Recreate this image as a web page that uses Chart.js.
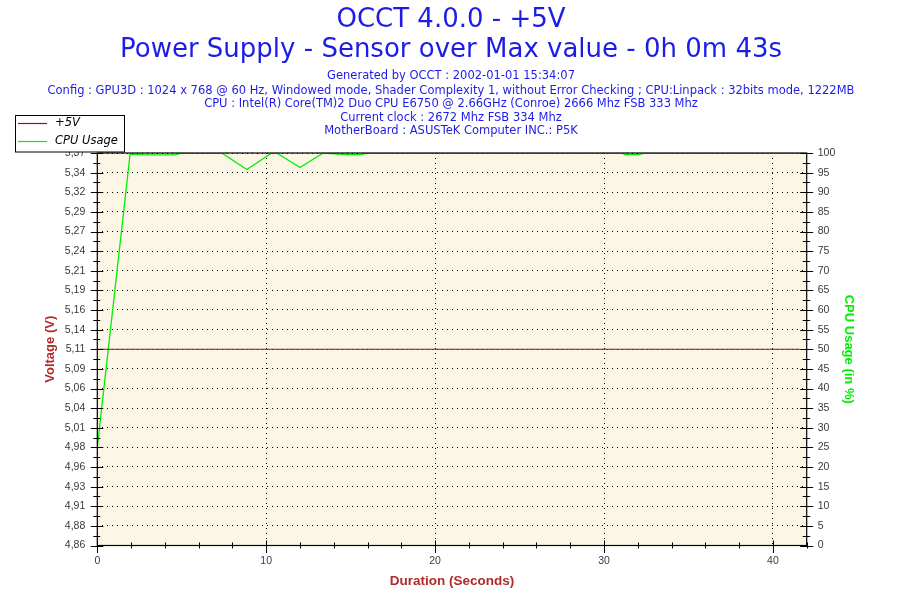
<!DOCTYPE html>
<html>
<head>
<meta charset="utf-8">
<script src="https://cdn.jsdelivr.net/npm/chart.js@4.4.1/dist/chart.umd.min.js"></script>
<style>
  html, body { margin: 0; padding: 0; background: #ffffff; }
  #wrap { width: 900px; height: 600px; }
</style>
</head>
<body>
<div id="wrap"><canvas id="c" width="900" height="600"></canvas></div>
<script>
// ---- Data ----
const titleLines = ["OCCT 4.0.0 - +5V", "Power Supply - Sensor over Max value - 0h 0m 43s"];
const infoLines = [
  "Generated by OCCT : 2002-01-01 15:34:07",
  "Config : GPU3D : 1024 x 768 @ 60 Hz, Windowed mode, Shader Complexity 1, without Error Checking ; CPU:Linpack : 32bits mode, 1222MB",
  "CPU : Intel(R) Core(TM)2 Duo CPU E6750 @ 2.66GHz (Conroe) 2666 Mhz FSB 333 Mhz",
  "Current clock : 2672 Mhz FSB 334 Mhz",
  "MotherBoard : ASUSTeK Computer INC.: P5K"
];
const seriesNames = ["+5V", "CPU Usage"];
const timeSec = [0, 1.94, 2.83, 4.6, 5.0, 7.37, 8.85, 10.33, 10.62, 12.0, 13.37, 14.77, 15.56, 16.0, 31.0, 31.25, 32.06, 32.4, 41.6];
const voltage = [5.112, 5.112, 5.112, 5.112, 5.112, 5.112, 5.112, 5.112, 5.112, 5.112, 5.112, 5.112, 5.112, 5.112, 5.112, 5.112, 5.112, 5.112, 5.112];
const cpuUsage = [25, 99.7, 99.5, 99.5, 100, 100, 95.8, 100, 100, 96.3, 100, 99.6, 99.6, 100, 100, 99.6, 99.6, 100, 100];
const voltMin = 4.857, voltMax = 5.367;
const voltTickLabels = ["4,86","4,88","4,91","4,93","4,96","4,98","5,01","5,04","5,06","5,09","5,11","5,14","5,16","5,19","5,21","5,24","5,27","5,29","5,32","5,34","5,37"];
const xTickValues = [0, 10, 20, 30, 40];
const xMax = 42;
const axisTitles = { x: "Duration (Seconds)", y: "Voltage (V)", y1: "CPU Usage (in %)" };

// ---- Styles ----
const BLUE = '#1c1ce6';
const DARKRED = '#b02a2a';
const RED_LINE = '#8b1414';
const GREEN = '#00ee00';
const CREAM = '#fcf6e7';
const TICK_FONT = { family: 'Liberation Sans', size: 10.5 };
const TICK_COLOR = '#3a3a3a';

const decor = {
  id: 'decor',
  beforeDraw(chart) {
    const { ctx, chartArea: a } = chart;
    ctx.save();
    ctx.fillStyle = '#ffffff';
    ctx.fillRect(0, 0, chart.width, chart.height);
    ctx.fillStyle = CREAM;
    ctx.fillRect(a.left, a.top, a.right - a.left, a.bottom - a.top);
    // titles
    ctx.fillStyle = BLUE;
    ctx.textAlign = 'center';
    ctx.textBaseline = 'middle';
    ctx.font = '26px "DejaVu Sans"';
    ctx.fillText(titleLines[0], 451, 20);
    ctx.fillText(titleLines[1], 451, 50);
    ctx.font = '11.5px "DejaVu Sans"';
    const ys = [76, 91, 104.5, 118, 131.5];
    infoLines.forEach((t, i) => ctx.fillText(t, 451, ys[i]));
    ctx.restore();
  },
  afterDatasetsDraw(chart) {
    const { ctx, chartArea: a, scales } = chart;
    ctx.save();
    // plot border
    ctx.strokeStyle = '#000';
    ctx.lineWidth = 1.2;
    ctx.strokeRect(a.left, a.top, a.right - a.left, a.bottom - a.top);
    ctx.lineWidth = 1;
    ctx.beginPath();
    // left axis ticks (major + minor)
    const ly = scales.y;
    const n = voltTickLabels.length;
    for (let i = 0; i < n; i++) {
      const v = voltMin + i * (voltMax - voltMin) / (n - 1);
      const py = Math.round(ly.getPixelForValue(v)) + 0.5;
      ctx.moveTo(a.left - 6.5, py); ctx.lineTo(a.left + 6, py);
      if (i < n - 1) {
        const pm = Math.round(ly.getPixelForValue(v + (voltMax - voltMin) / (n - 1) / 2)) + 0.5;
        ctx.moveTo(a.left - 4, pm); ctx.lineTo(a.left + 3, pm);
      }
    }
    // right axis ticks
    const ry = scales.y1;
    for (let v = 0; v <= 100; v += 2.5) {
      const py = Math.round(ry.getPixelForValue(v)) + 0.5;
      const major = (v % 5 === 0);
      ctx.moveTo(a.right - (major ? 6.5 : 4), py); ctx.lineTo(a.right + (major ? 6.5 : 3.5), py);
    }
    // bottom axis ticks
    const sx = scales.x;
    for (let t = 0; t <= xMax; t += 2) {
      const px = Math.round(sx.getPixelForValue(t)) + 0.5;
      const major = (t % 10 === 0);
      ctx.moveTo(px, a.bottom - (major ? 5 : 3)); ctx.lineTo(px, a.bottom + (major ? 7.5 : 3));
    }
    ctx.stroke();

    // legend
    ctx.fillStyle = '#ffffff';
    ctx.fillRect(15.5, 115.5, 109, 36.5);
    ctx.strokeStyle = '#000';
    ctx.lineWidth = 1;
    ctx.strokeRect(15.5, 115.5, 109, 36.5);
    const ly0 = [123.5, 141.5];
    chart.data.datasets.forEach((ds, i) => {
      ctx.strokeStyle = ds.borderColor;
      ctx.lineWidth = 1.2;
      ctx.beginPath();
      ctx.moveTo(18, ly0[i]); ctx.lineTo(47, ly0[i]);
      ctx.stroke();
      ctx.fillStyle = '#000';
      ctx.font = 'italic 11.5px "DejaVu Sans"';
      ctx.textAlign = 'left';
      ctx.textBaseline = 'middle';
      ctx.fillText(ds.label, 55, ly0[i]);
    });
    ctx.restore();
  }
};

const ctx = document.getElementById('c').getContext('2d');
new Chart(ctx, {
  type: 'line',
  data: {
    labels: timeSec,
    datasets: [
      {
        label: seriesNames[0],
        data: timeSec.map((t, i) => ({ x: t, y: voltage[i] })),
        borderColor: RED_LINE,
        borderWidth: 1,
        pointRadius: 0,
        tension: 0,
        yAxisID: 'y'
      },
      {
        label: seriesNames[1],
        data: timeSec.map((t, i) => ({ x: t, y: cpuUsage[i] })),
        borderColor: GREEN,
        borderWidth: 1.3,
        pointRadius: 0,
        tension: 0,
        yAxisID: 'y1'
      }
    ]
  },
  options: {
    responsive: false,
    animation: false,
    devicePixelRatio: 1,
    layout: { padding: { top: 153, left: 0, right: 0, bottom: 0 } },
    plugins: { legend: { display: false }, title: { display: false }, tooltip: { enabled: false } },
    scales: {
      x: {
        type: 'linear',
        min: 0, max: xMax,
        afterFit(s) { s.height = 54.5; },
        afterBuildTicks(s) { s.ticks = xTickValues.map(v => ({ value: v })); },
        ticks: { font: TICK_FONT, color: TICK_COLOR, padding: 9, maxRotation: 0 },
        grid: { color: '#000', lineWidth: 1, drawTicks: false },
        border: { display: false, dash: [1, 4] },
        title: { display: true, text: axisTitles.x, color: DARKRED, font: { family: 'Liberation Sans', size: 13.5, weight: 'bold' }, padding: { top: 0, bottom: 11 } }
      },
      y: {
        type: 'linear',
        position: 'left',
        min: voltMin, max: voltMax,
        afterFit(s) { s.width = 97.3; },
        afterBuildTicks(s) {
          s.ticks = voltTickLabels.map((_, i) => ({ value: voltMin + i * (voltMax - voltMin) / (voltTickLabels.length - 1) }));
        },
        ticks: { font: TICK_FONT, color: TICK_COLOR, padding: 12, callback: (v, i) => voltTickLabels[i] },
        grid: { color: '#000', lineWidth: 1, drawTicks: false },
        border: { display: false, dash: [1, 4] },
        title: { display: true, text: axisTitles.y, color: DARKRED, font: { family: 'Liberation Sans', size: 13, weight: 'bold' }, padding: { top: 43, bottom: 0 } }
      },
      y1: {
        type: 'linear',
        position: 'right',
        min: 0, max: 100,
        afterFit(s) { s.width = 900 - 806.7; },
        ticks: { stepSize: 5, font: TICK_FONT, color: TICK_COLOR, padding: 11 },
        grid: { display: false, drawTicks: false },
        border: { display: false },
        title: { display: true, text: axisTitles.y1, color: GREEN, font: { family: 'Liberation Sans', size: 13, weight: 'bold' }, padding: { top: 44, bottom: 0 } }
      }
    }
  },
  plugins: [decor]
});
</script>
</body>
</html>
